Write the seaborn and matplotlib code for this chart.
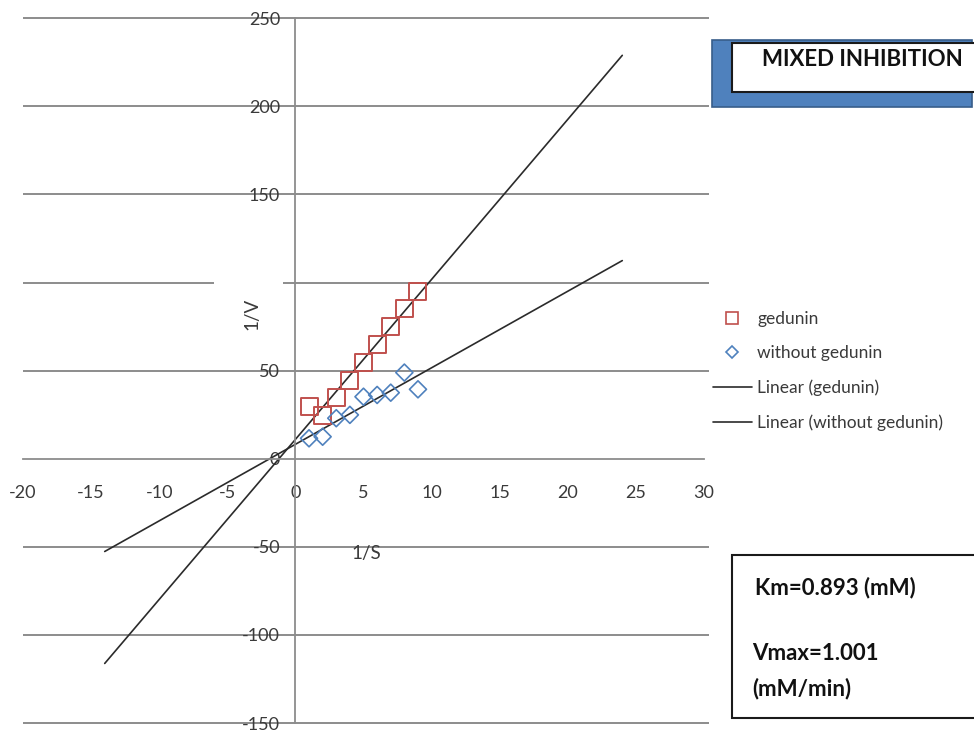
"""
Lineweaver-Burk plot: 1/V vs 1/S with and without gedunin (mixed inhibition).
"""

import numpy as np
import pandas as pd
import matplotlib
matplotlib.use("Agg")
import matplotlib.pyplot as plt
import seaborn as sns
from matplotlib.patches import Rectangle
from matplotlib.lines import Line2D

# data
inv_s = [1, 2, 3, 4, 5, 6, 7, 8, 9]
inv_v_gedunin = [29.5, 24.5, 34.5, 44.5, 54.5, 65, 75, 85, 95]
inv_v_without = [11.6, 12.5, 23, 24.9, 35.2, 36.2, 37.5, 48.9, 39.4]
trend_range = [-14, 24]          # Excel trendline forecast backward / forward

x_ticks = [-20, -15, -10, -5, 0, 5, 10, 15, 20, 25, 30]
y_ticks = [-150, -100, -50, 0, 50, 150, 200, 250]   # 100 label missing in source
grid_levels = [-150, -100, -50, 50, 150, 200, 250]

km_text = "Km=0.893 (mM)"
vmax_text = ["Vmax=1.001", "(mM/min)"]

RED = "#c0504d"
BLUE = "#4f81bd"
GRID = "#8c8c8c"
TXT = "#3a3a3a"

sns.set_theme(style="white")
plt.rcParams["font.family"] = ["Lato", "DejaVu Sans"]
plt.rcParams["axes.unicode_minus"] = False

W, H = 974, 733
fig = plt.figure(figsize=(W / 100, H / 100), dpi=100)
ax = fig.add_axes([23 / W, 1 - 723 / H, (704 - 23) / W, (723 - 18.3) / H])

df = pd.DataFrame({
    "x": inv_s * 2,
    "y": inv_v_gedunin + inv_v_without,
    "series": ["gedunin"] * len(inv_s) + ["without gedunin"] * len(inv_s),
})

# gridlines (the 100 line is broken around the axis label in the source)
for lvl in grid_levels:
    ax.hlines(lvl, -20, 30.4, color=GRID, lw=1.4, clip_on=False, zorder=0)
ax.hlines(100, -20, -6.0, color=GRID, lw=1.4, zorder=0)
ax.hlines(100, -0.9, 30.4, color=GRID, lw=1.4, clip_on=False, zorder=0)

# linear trendlines
for vals in (inv_v_gedunin, inv_v_without):
    slope, icpt = np.polyfit(inv_s, vals, 1)
    xs = np.array(trend_range, dtype=float)
    sns.lineplot(x=xs, y=slope * xs + icpt, ax=ax, color="#2b2b2b", lw=1.2,
                 zorder=2, legend=False)

sub = df[df.series == "gedunin"]
sns.scatterplot(data=sub, x="x", y="y", ax=ax, marker="s", s=150,
                facecolor="none", edgecolor=RED, linewidth=1.4, zorder=3,
                legend=False)
sub = df[df.series == "without gedunin"]
sns.scatterplot(data=sub, x="x", y="y", ax=ax, marker="D", s=75,
                facecolor="none", edgecolor=BLUE, linewidth=1.2, zorder=3,
                legend=False)

ax.set_xlim(-20, 30)
ax.set_ylim(-150, 250)
ax.set_xticks(x_ticks)
ax.set_yticks(y_ticks)
ax.set_xlabel("")
ax.set_ylabel("")

for side in ("top", "right"):
    ax.spines[side].set_visible(False)
ax.spines["left"].set_position(("data", 0))
ax.spines["bottom"].set_position(("data", 0))
for side in ("left", "bottom"):
    ax.spines[side].set_color(GRID)
    ax.spines[side].set_linewidth(1.3)
ax.tick_params(axis="x", direction="out", length=7, width=1.2, color=GRID,
               pad=12, labelsize=13, labelcolor=TXT)
ax.tick_params(axis="y", direction="out", length=4, width=1.2, color=GRID,
               pad=7, labelsize=13, labelcolor=TXT)
ax.patch.set_alpha(0)

ax.text(-3.2, 82, "1/V", rotation=90, ha="center", va="center",
        fontsize=13.5, color=TXT)
ax.text(5.2, -54, "1/S", ha="center", va="center", fontsize=13.5, color=TXT)

# legend
handles = [
    Line2D([], [], ls="none", marker="s", ms=8, mfc="none", mec=RED, mew=1.2),
    Line2D([], [], ls="none", marker="D", ms=6, mfc="none", mec=BLUE, mew=1.2),
    Line2D([], [], color="#2b2b2b", lw=1.2),
    Line2D([], [], color="#2b2b2b", lw=1.2),
]
labels = ["gedunin", "without gedunin", "Linear (gedunin)",
          "Linear (without gedunin)"]
fig.legend(handles, labels, loc="upper left",
           bbox_to_anchor=(706 / W, 1 - 304 / H), frameon=False,
           fontsize=12.5, labelcolor=TXT, handlelength=2.25,
           handletextpad=0.3, labelspacing=1.05, borderaxespad=0)


def px_rect(x0, y0, x1, y1, **kw):
    return Rectangle((x0 / W, 1 - y1 / H), (x1 - x0) / W, (y1 - y0) / H,
                     transform=fig.transFigure, **kw)


# title box
fig.patches.append(px_rect(712, 40, 972, 107, facecolor=BLUE,
                           edgecolor="#385d8a", lw=1.2))
fig.patches.append(px_rect(732, 43, 980, 92, facecolor="white",
                           edgecolor="#1a1a1a", lw=1.5))
fig.text(762 / W, 1 - 60 / H, "MIXED INHIBITION", fontsize=16,
         fontweight="bold", color="#111111", va="center", ha="left")

# kinetics box
fig.patches.append(px_rect(732, 555, 980, 718, facecolor="white",
                           edgecolor="#1a1a1a", lw=1.5))
fig.text(755 / W, 1 - 588 / H, km_text, fontsize=16, fontweight="bold",
         color="#111111", va="center")
fig.text(752 / W, 1 - 653 / H, vmax_text[0], fontsize=16, fontweight="bold",
         color="#111111", va="center")
fig.text(752 / W, 1 - 689 / H, vmax_text[1], fontsize=16, fontweight="bold",
         color="#111111", va="center")

fig.savefig("out.png", dpi=100, facecolor="white")
